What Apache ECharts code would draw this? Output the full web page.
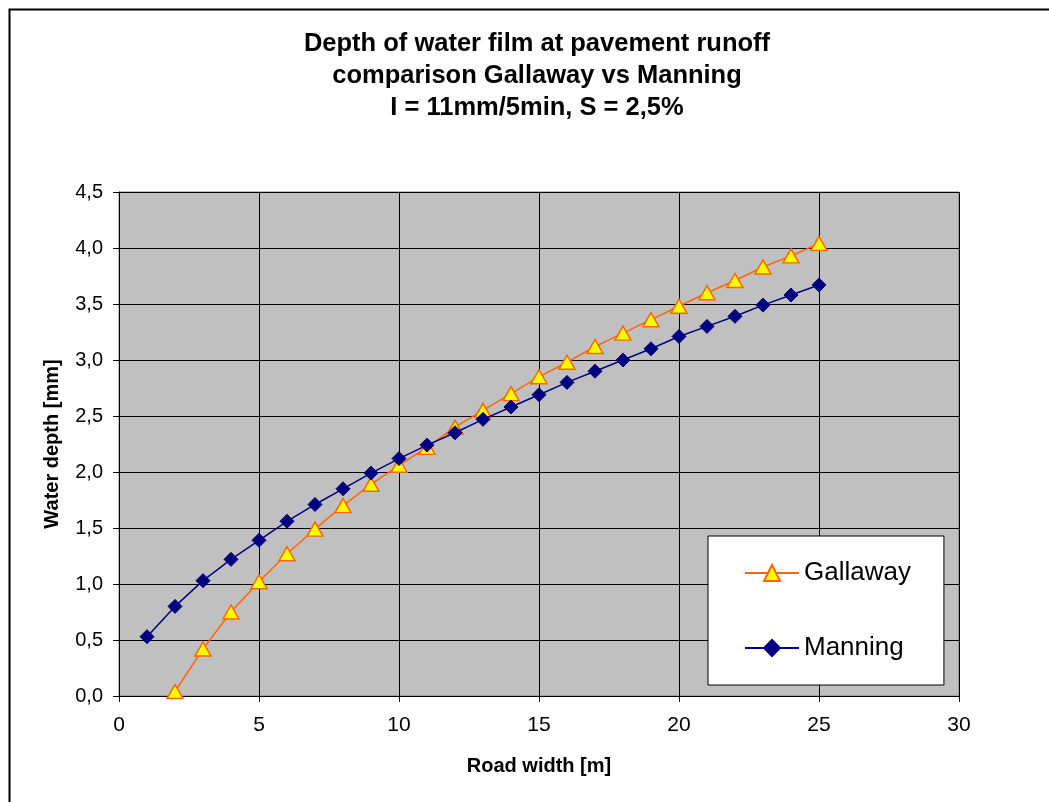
<!DOCTYPE html>
<html>
<head>
<meta charset="utf-8">
<script src="https://cdn.jsdelivr.net/npm/echarts@6/dist/echarts.min.js"></script>
<style>html,body{margin:0;padding:0;background:#fff;}#c{width:1049px;height:802px;}</style>
</head>
<body>
<div id="c"></div>
<script>
const titleLines = ['Depth of water film at pavement runoff', 'comparison Gallaway vs Manning', 'I = 11mm/5min, S = 2,5%'];
const xTitle = 'Road width [m]';
const yTitle = 'Water depth [mm]';
const roadWidth = [1,2,3,4,5,6,7,8,9,10,11,12,13,14,15,16,17,18,19,20,21,22,23,24,25];
const gallaway = [-0.35,0.04,0.42,0.75,1.02,1.27,1.49,1.70,1.89,2.06,2.22,2.40,2.55,2.70,2.85,2.98,3.12,3.24,3.36,3.48,3.60,3.71,3.83,3.93,4.04];
const manning = [0.53,0.80,1.03,1.22,1.39,1.56,1.71,1.85,1.99,2.12,2.24,2.35,2.47,2.58,2.69,2.80,2.90,3.00,3.10,3.21,3.30,3.39,3.49,3.58,3.67];

const FONT = '"Liberation Sans", Arial, sans-serif';
const chart = echarts.init(document.getElementById('c'), null, {renderer: 'canvas'});
const pairs = (xs, ys) => xs.map((x, i) => [x, ys[i]]);

chart.setOption({
  animation: false,
  backgroundColor: '#ffffff',
  graphic: [{
    type: 'rect', left: 7, top: 7, silent: true, z: -10,
    shape: {x: 0, y: 0, width: 1200, height: 900},
    style: {fill: 'none', stroke: '#000', lineWidth: 2}
  }],
  title: {
    text: titleLines.join('\n'),
    left: 532, top: 23, textAlign: 'center',
    textStyle: {fontFamily: FONT, fontSize: 25.5, fontWeight: 'bold', color: '#000', lineHeight: 32}
  },
  grid: {left: 119, top: 192, right: 90, bottom: 106, show: true, backgroundColor: '#c0c0c0', borderColor: '#808080', borderWidth: 1},
  legend: {
    orient: 'vertical', left: 708, top: 536,
    backgroundColor: '#fff', borderColor: '#000', borderWidth: 1, borderRadius: 0,
    padding: [22, 33, 22, 36], itemGap: 45, itemWidth: 54, itemHeight: 20,
    textStyle: {fontFamily: FONT, fontSize: 26, color: '#000', lineHeight: 30},
    data: ['Gallaway', 'Manning']
  },
  xAxis: {
    type: 'value', min: 0, max: 30, interval: 5,
    name: xTitle, nameLocation: 'middle', nameGap: 60,
    nameTextStyle: {fontFamily: FONT, fontSize: 20, fontWeight: 'bold', color: '#000'},
    axisLine: {show: true, onZero: false, lineStyle: {color: '#000', width: 1}},
    axisTick: {show: true, length: 6, lineStyle: {color: '#000'}},
    axisLabel: {fontFamily: FONT, fontSize: 21, color: '#000', margin: 19},
    splitLine: {show: true, lineStyle: {color: '#000', width: 1}}
  },
  yAxis: {
    type: 'value', min: 0, max: 4.5, interval: 0.5,
    name: yTitle, nameLocation: 'middle', nameGap: 57, nameRotate: 90,
    nameTextStyle: {fontFamily: FONT, fontSize: 20, fontWeight: 'bold', color: '#000'},
    axisLine: {show: true, onZero: false, lineStyle: {color: '#000', width: 1}},
    axisTick: {show: true, length: 6, lineStyle: {color: '#000'}},
    axisLabel: {fontFamily: FONT, fontSize: 20, color: '#000', margin: 16,
      formatter: v => v.toFixed(1).replace('.', ',')},
    splitLine: {show: true, lineStyle: {color: '#000', width: 1}}
  },
  series: [
    {
      name: 'Gallaway', type: 'line', clip: true, data: pairs(roadWidth, gallaway),
      symbol: 'triangle', symbolSize: [16, 14], showAllSymbol: true,
      lineStyle: {color: '#ff6600', width: 1.5},
      itemStyle: {color: '#ffff00', borderColor: '#ff6600', borderWidth: 1.5},
      z: 2
    },
    {
      name: 'Manning', type: 'line', clip: true, data: pairs(roadWidth, manning),
      symbol: 'diamond', symbolSize: [14, 14], showAllSymbol: true,
      lineStyle: {color: '#000080', width: 1.5},
      itemStyle: {color: '#000080', borderColor: '#000080', borderWidth: 1},
      z: 3
    }
  ]
});
</script>
</body>
</html>
